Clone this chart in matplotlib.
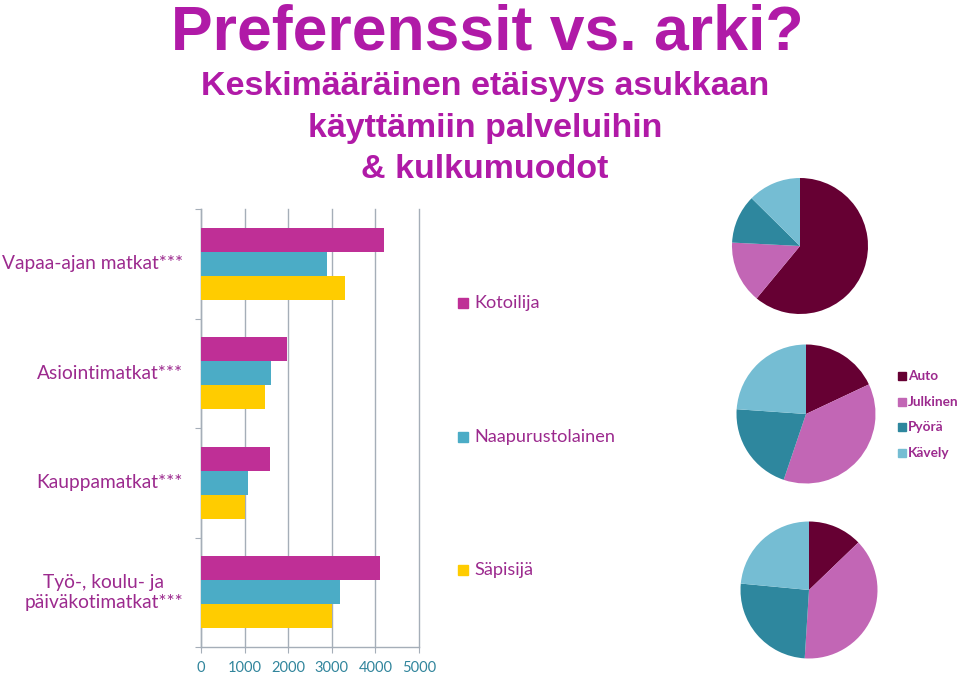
import matplotlib
matplotlib.use("Agg")
import matplotlib.pyplot as plt
import numpy as np
from matplotlib.patches import Rectangle

# ---------------- data ----------------
categories = ["Vapaa-ajan matkat***", "Asiointimatkat***", "Kauppamatkat***",
              "Työ-, koulu- ja\npäiväkotimatkat***"]
groups = ["Kotoilija", "Naapurustolainen", "Säpisijä"]
kotoilija = [4190, 1970, 1580, 4110]
naapurustolainen = [2890, 1600, 1080, 3190]
sapisija = [3300, 1470, 1020, 3010]
xticks = [0, 1000, 2000, 3000, 4000, 5000]

modes = ["Auto", "Julkinen", "Pyörä", "Kävely"]
pie_kotoilija = [61.0, 14.8, 11.6, 12.6]
pie_naapurustolainen = [18.0, 37.2, 20.9, 23.9]
pie_sapisija = [12.8, 38.2, 25.5, 23.5]

# ---------------- styles ----------------
W, H = 960, 673
bar_colors = ["#BF2F96", "#4BACC6", "#FFCC00"]
pie_colors = ["#660033", "#C266B5", "#2E879E", "#75BDD3"]
title_col = "#B01AA7"
label_col = "#9C2A8E"
tick_col = "#31859C"
grid_col = "#A5AEB8"
body_font = ["Lato", "DejaVu Sans"]
head_font = ["Liberation Sans", "DejaVu Sans"]

fig = plt.figure(figsize=(W / 100, H / 100), dpi=100)
fig.patch.set_facecolor("white")

def fx(px):
    return px / W

def fy(py):
    return 1 - py / H

# ---------------- titles ----------------
fig.text(fx(487), fy(49), "Preferenssit vs. arki?", ha="center", va="baseline",
         fontsize=45, fontweight="bold", color=title_col, family=head_font)
subs = ["Keskimääräinen etäisyys asukkaan", "käyttämiin palveluihin", "& kulkumuodot"]
for i, s in enumerate(subs):
    fig.text(fx(485), fy(95 + i * 41.5), s, ha="center", va="baseline",
             fontsize=24.5, fontweight="bold", color=title_col, family=head_font)

# ---------------- bar chart ----------------
ax_l, ax_r, ax_t, ax_b = 201, 419, 209, 647
ax = fig.add_axes([fx(ax_l), fy(ax_b), fx(ax_r - ax_l), (ax_b - ax_t) / H])
n = len(categories)
y = np.arange(n)
bh = 0.22
series = [kotoilija, naapurustolainen, sapisija]
for k, vals in enumerate(series):
    ax.barh(y + (k - 1) * bh, vals, height=bh, color=bar_colors[k], zorder=3)
ax.set_ylim(n - 0.5, -0.5)
ax.set_xlim(0, 5000)
ax.set_xticks(xticks)
ax.set_xticklabels([str(t) for t in xticks], color=tick_col, fontsize=10.5, family=body_font)
ax.tick_params(axis="x", length=4, color=grid_col, pad=6)
ax.set_yticks(np.arange(-0.5, n, 1.0))
ax.set_yticklabels([])
ax.tick_params(axis="y", length=4, color=grid_col)
ax.xaxis.grid(True, color=grid_col, linewidth=1, zorder=0)
for gl in ax.get_xgridlines():
    gl.set_clip_on(False)
for sp in ["top", "right"]:
    ax.spines[sp].set_visible(False)
for sp in ["left", "bottom"]:
    ax.spines[sp].set_color(grid_col)
    ax.spines[sp].set_linewidth(1)
for i, c in enumerate(categories):
    ax.text(-18 / (ax_r - ax_l) * 5000, i, c, ha="right", va="center",
            multialignment="center", color=label_col, fontsize=13.8,
            family=body_font, transform=ax.transData, clip_on=False)

# group legend entries
leg_pos = [(458, 303), (458, 437), (458, 570)]
for (px, py), g, col in zip(leg_pos, groups, bar_colors):
    fig.patches.append(Rectangle((fx(px), fy(py + 5)), fx(10), 10 / H,
                                 transform=fig.transFigure, color=col))
    fig.text(fx(474), fy(py), g, ha="left", va="center", color=label_col,
             fontsize=13.1, family=body_font)

# ---------------- pies ----------------
pie_data = [pie_kotoilija, pie_naapurustolainen, pie_sapisija]
centers = [(800, 246, 68), (806, 414, 69.5), (809, 590, 68.5)]
for vals, (cx, cy, r) in zip(pie_data, centers):
    pax = fig.add_axes([fx(cx - r), fy(cy + r), fx(2 * r), 2 * r / H])
    pax.pie(vals, colors=pie_colors, startangle=90, counterclock=False,
            wedgeprops=dict(linewidth=0))
    pax.set_xlim(-1, 1)
    pax.set_ylim(-1, 1)
    pax.set_aspect("auto")
    pax.axis("off")

# pie legend
for i, (m, col) in enumerate(zip(modes, pie_colors)):
    py = 376 + i * 25.7
    fig.patches.append(Rectangle((fx(898), fy(py + 4)), fx(8), 8 / H,
                                 transform=fig.transFigure, color=col))
    fig.text(fx(908), fy(py), m, ha="left", va="center", color=label_col,
             fontsize=9.8, fontweight="bold", family=body_font)

fig.savefig("out.png", dpi=100, facecolor="white")
